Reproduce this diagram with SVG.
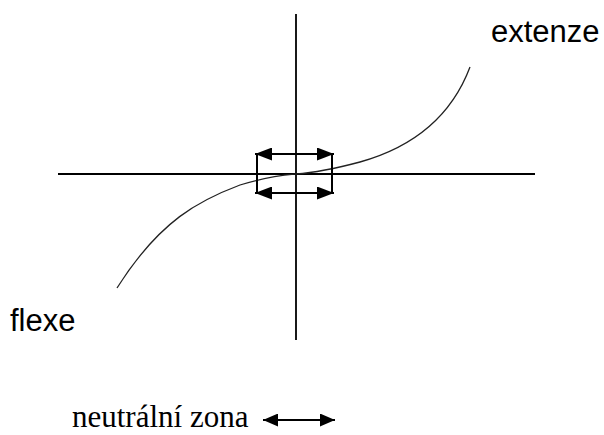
<svg xmlns="http://www.w3.org/2000/svg" width="604" height="435" viewBox="0 0 604 435">
<style>
.ax{stroke:#000;stroke-width:1.8;fill:none}
.box{stroke:#000;stroke-width:2;fill:none}
.cv{stroke:#222;stroke-width:1.3;fill:none}
.lbl{font-family:"Liberation Sans",Arial,sans-serif;font-size:31px;fill:#000}
.ser{font-family:"Liberation Serif","Times New Roman",serif;font-size:31px;fill:#000}
</style>
<defs>
<marker id="ah" viewBox="0 0 10 10" refX="10" refY="5" markerWidth="8.5" markerHeight="6.5" markerUnits="strokeWidth" orient="auto-start-reverse" preserveAspectRatio="none">
<path d="M0,0 L10,5 L0,10 Z" fill="#000"/>
</marker>
<marker id="ah2" viewBox="0 0 10 10" refX="10" refY="5" markerWidth="7.5" markerHeight="6.5" markerUnits="strokeWidth" orient="auto-start-reverse" preserveAspectRatio="none">
<path d="M0,0 L10,5 L0,10 Z" fill="#000"/>
</marker>
</defs>
<g id="axes">
<line class="ax" x1="296" y1="14" x2="296" y2="340"/>
<line class="ax" x1="58" y1="174" x2="535" y2="174"/>
</g>
<g id="curve">
<path class="cv" d="M117,288 C160,220 200,200 240,185 C270,176 285,175 296,174 C310,173 330,170 360,162 C410,148 450,120 470,67"/>
</g>
<g id="connectors">
<line class="box" x1="257" y1="154" x2="257" y2="194"/>
<line class="box" x1="332" y1="154" x2="332" y2="194"/>
<line class="box" x1="255" y1="154" x2="334" y2="154" marker-start="url(#ah)" marker-end="url(#ah)"/>
<line class="box" x1="255" y1="193" x2="334" y2="193" marker-start="url(#ah)" marker-end="url(#ah)"/>
<line class="box" x1="263" y1="420" x2="335" y2="420" marker-start="url(#ah2)" marker-end="url(#ah2)"/>
</g>
<g id="label-extenze"><text class="lbl" x="491" y="42">extenze</text></g>
<g id="label-flexe"><text class="lbl" x="10" y="331">flexe</text></g>
<g id="label-neutral"><text class="ser" x="72" y="427">neutrální zona</text></g>
</svg>
